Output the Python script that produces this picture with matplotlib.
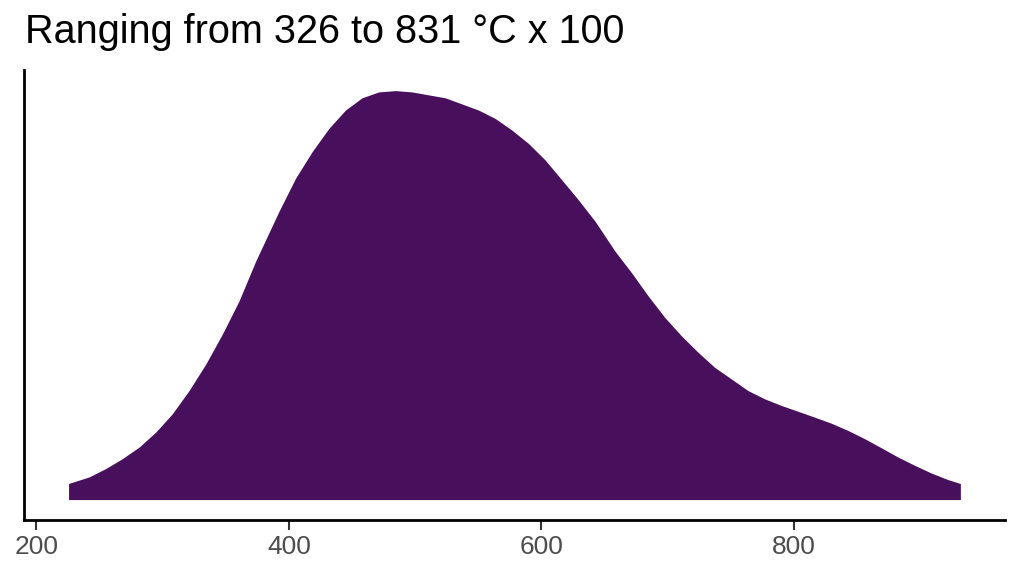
import numpy as np
import matplotlib
matplotlib.use("Agg")
import matplotlib.pyplot as plt

plt.rcParams["font.family"] = ["Liberation Sans", "DejaVu Sans"]

# density curve (x in °C x 100, density in 1e-3)
temp = [225.5, 241.9, 255.1, 268.2, 281.4, 294.6, 307.7, 320.9, 334.2, 347.3,
        360.5, 373.7, 392.1, 405.3, 418.4, 431.6, 444.8, 457.9, 471.1, 484.4,
        497.5, 523.9, 550.2, 563.4, 576.5, 589.7, 602.9, 616.1, 629.2, 642.5,
        658.3, 671.4, 684.6, 697.8, 710.9, 724.1, 737.3, 750.4, 763.6, 776.8,
        790.0, 803.1, 816.3, 829.5, 842.7, 855.9, 869.0, 882.2, 895.4, 908.5,
        921.7, 931.8]
dens = [0.109, 0.154, 0.211, 0.278, 0.356, 0.458, 0.582, 0.739, 0.919, 1.122,
        1.347, 1.617, 1.954, 2.179, 2.359, 2.516, 2.641, 2.724, 2.764, 2.773,
        2.764, 2.724, 2.641, 2.584, 2.506, 2.415, 2.303, 2.168, 2.033, 1.887,
        1.684, 1.538, 1.380, 1.234, 1.110, 0.998, 0.896, 0.818, 0.739, 0.683,
        0.638, 0.599, 0.559, 0.518, 0.469, 0.413, 0.352, 0.289, 0.233, 0.181,
        0.136, 0.109]
x_ticks = [200, 400, 600, 800]
title = "Ranging from 326 to 831 °C x 100"

x = np.array(temp)
y = np.array(dens) * 1e-3

fig = plt.figure(figsize=(10.24, 5.76), dpi=100)
ax = fig.add_axes([0.0234, 0.0972, 0.958, 0.781])

ax.fill_between(x, 0, y, color="#480F5D", linewidth=0)

# ggplot-like 5% expansion
xr = x.max() - x.min()
ax.set_xlim(x.min() - 0.05 * xr, x.max() + 0.05 * xr)
ax.set_ylim(-0.05 * y.max(), 1.05 * y.max())

ax.set_xticks(x_ticks)
ax.set_yticks([])
ax.tick_params(axis="x", length=7, width=1.5, color="#333333",
               labelsize=19, labelcolor="#4D4D4D", pad=4)
for s in ["top", "right"]:
    ax.spines[s].set_visible(False)
for s in ["left", "bottom"]:
    ax.spines[s].set_linewidth(2)
    ax.spines[s].set_color("black")

fig.text(0.024, 0.925, title, fontsize=28.5, color="black", ha="left", va="baseline")

fig.savefig("out.png", dpi=100, facecolor="white")
